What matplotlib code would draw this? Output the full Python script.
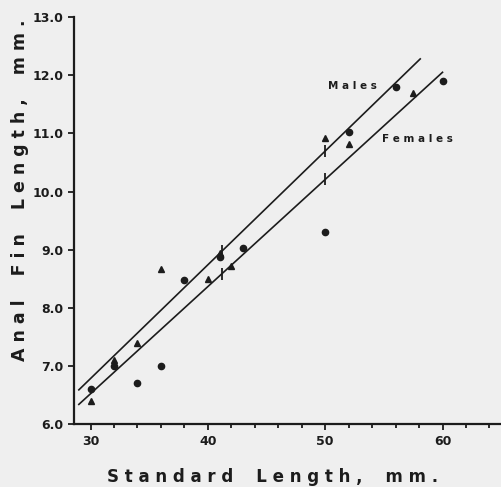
import numpy as np
import matplotlib.pyplot as plt

# circles and triangles
circle_x = [30, 32, 34, 36, 38, 41, 43, 50, 52, 56, 60]
circle_y = [6.6, 7.0, 6.7, 7.0, 8.48, 8.88, 9.03, 9.3, 11.02, 11.8, 11.9]
tri_x = [30, 32, 34, 36, 40, 41, 42, 50, 52, 57.5]
tri_y = [6.4, 7.1, 7.4, 8.67, 8.5, 8.95, 8.72, 10.92, 10.82, 11.7]

# fitted lines (end points) and mean marks
males_x = [29.0, 58.1]
males_y = [6.59, 12.28]
females_x = [29.0, 60.0]
females_y = [6.34, 12.05]
mean_x = [41.2, 50.0]

xticks = [30, 40, 50, 60]
yticks = [6.0, 7.0, 8.0, 9.0, 10.0, 11.0, 12.0, 13.0]

ink = '#1c1c1c'
paper = '#efefef'

fig = plt.figure(figsize=(5.01, 4.87), dpi=100, facecolor=paper)
ax = fig.add_axes([0.148, 0.129, 0.85, 0.836])
ax.set_facecolor(paper)

ax.plot(males_x, males_y, color=ink, lw=1.2)
ax.plot(females_x, females_y, color=ink, lw=1.2)

# short bars across the lines
for xs, ys in [(males_x, males_y), (females_x, females_y)]:
    my = np.interp(mean_x, xs, ys)
    ax.plot(mean_x, my, ls='none', marker='|', ms=9, mew=1.3, color=ink)

ax.plot(circle_x, circle_y, ls='none', marker='o', ms=4.5, color=ink)
ax.plot(tri_x, tri_y, ls='none', marker='^', ms=5, color=ink)

ax.text(50.25, 11.81, 'M a l e s', fontsize=7.5, fontweight='bold', color=ink,
        ha='left', va='center')
ax.text(54.85, 10.9, 'F e m a l e s', fontsize=7.5, fontweight='bold', color=ink,
        ha='left', va='center')

ax.set_xlim(28.6, 64.9)
ax.set_ylim(6.0, 13.0)
ax.set_xticks(xticks)
ax.set_xticks(np.arange(30, 65, 2), minor=True)
ax.set_yticks(yticks)
ax.set_yticklabels([f'{v:.1f}' for v in yticks])

for s in ['top', 'right']:
    ax.spines[s].set_visible(False)
for s in ['left', 'bottom']:
    ax.spines[s].set_linewidth(1.6)
    ax.spines[s].set_color(ink)

ax.tick_params(which='both', direction='out', color=ink, width=1.3,
               labelsize=9, labelcolor=ink)
ax.tick_params(which='major', length=4)
ax.tick_params(which='minor', length=3)
for lab in ax.get_xticklabels() + ax.get_yticklabels():
    lab.set_fontweight('bold')

fig.text(0.545, 0.0205, 'S t a n d a r d    L e n g t h ,    m m .',
         fontsize=12, fontweight='bold', color=ink, ha='center', va='center')
fig.text(0.04, 0.61, 'A n a l    F i n    L e n g t h ,    m m .',
         fontsize=12.5, fontweight='bold', color=ink, ha='center', va='center',
         rotation=90)

fig.savefig('out.png', dpi=100, facecolor=paper)
